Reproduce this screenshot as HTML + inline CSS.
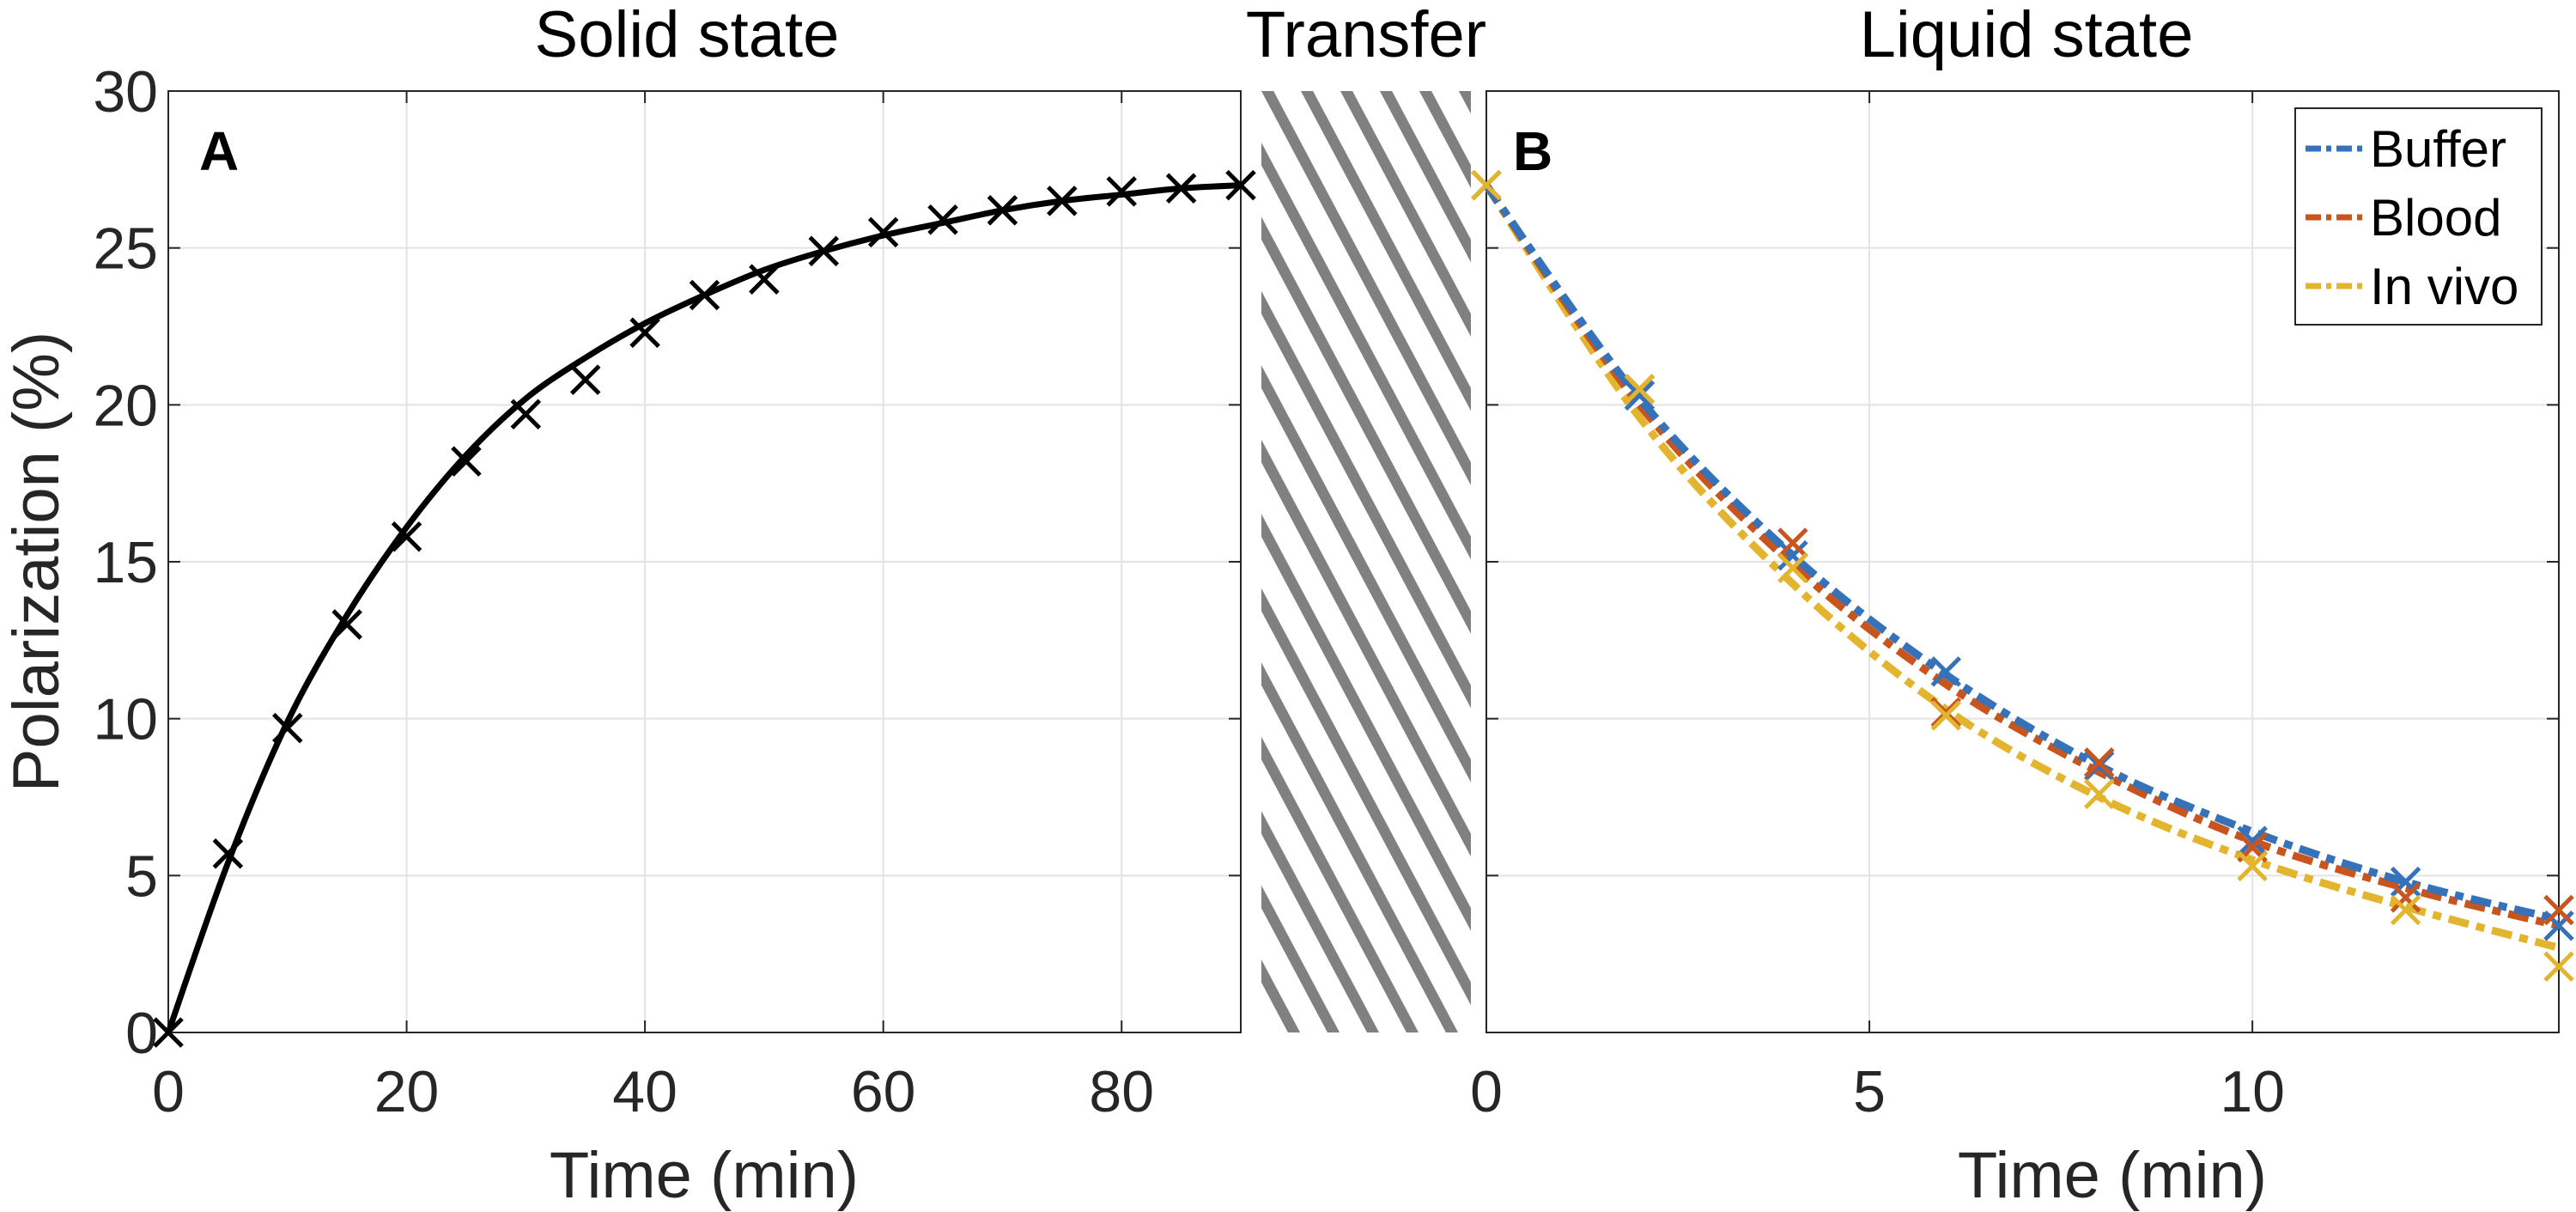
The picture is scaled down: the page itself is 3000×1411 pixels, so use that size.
<!DOCTYPE html>
<html><head><meta charset="utf-8"><style>
html,body{margin:0;padding:0;background:#fff;}
svg{display:block;font-family:"Liberation Sans",sans-serif;}
</style></head><body>
<svg id="chart" width="3000" height="1411" viewBox="0 0 3000 1411" xmlns="http://www.w3.org/2000/svg">
<defs>
<pattern id="hatch" patternUnits="userSpaceOnUse" width="40.6" height="40" patternTransform="translate(1469,106) rotate(-28)">
<rect x="0" y="0" width="12.5" height="40" fill="#808080"/>
</pattern>
</defs>
<g id="gA"></g>
<rect x="1469" y="106" width="244" height="1096" fill="url(#hatch)"/>
<g id="gB"></g>
<text x="800" y="66" font-size="76" text-anchor="middle" fill="#000">Solid state</text>
<text x="1591" y="66" font-size="76" text-anchor="middle" fill="#000">Transfer</text>
<text x="2360" y="66" font-size="76" text-anchor="middle" fill="#000">Liquid state</text>
<text transform="translate(68,654) rotate(-90)" font-size="76" text-anchor="middle" fill="#262626">Polarization (%)</text>
<text x="820" y="1394" font-size="76" text-anchor="middle" fill="#262626">Time (min)</text>
<text x="2460" y="1394" font-size="76" text-anchor="middle" fill="#262626">Time (min)</text>
<text x="232" y="198" font-size="64" font-weight="bold" fill="#000">A</text>
<text x="1762" y="198" font-size="64" font-weight="bold" fill="#000">B</text>
</svg>
<script>
// Panel A data
const aTimes = [0,5,10,15,20,25,30,35,40,45,50,55,60,65,70,75,80,85,90];
const aMeasured = [0,5.7,9.7,13.0,15.8,18.2,19.7,20.8,22.3,23.5,24.0,24.9,25.5,25.9,26.2,26.5,26.8,26.9,27.0];
const aFit = [0,5.4,9.9,13.3,16.1,18.4,20.2,21.5,22.6,23.5,24.3,24.9,25.4,25.8,26.2,26.5,26.7,26.9,27.0];
const aXTicks = [0,20,40,60,80];
const yTicks = [0,5,10,15,20,25,30];
// Panel B data
const bTimes = [0,2,4,6,8,10,12,14];
const bufferMeasured = [27,20.3,15.2,11.5,8.5,6.1,4.8,3.4];
const bloodMeasured = [27,20.5,15.6,10.2,8.6,5.9,4.3,3.9];
const vivoMeasured = [27,20.5,14.8,10.1,7.6,5.3,3.9,2.1];
const bufferFit = [27,20.2,15.2,11.4,8.5,6.4,4.8,3.6];
const bloodFit = [27,20.0,14.9,11.1,8.3,6.1,4.6,3.4];
const vivoFit = [27,19.6,14.3,10.3,7.5,5.5,4.0,2.7];
const bXTicks = [0,5,10];
const seriesNames = ["Buffer","Blood","In vivo"];

const NS="http://www.w3.org/2000/svg";
const top_=106, bot=1202;
const yS = v => bot - (v/30)*(bot-top_);
const xA = v => 196 + v/90*(1445-196);
const xB = v => 1731 + v/14*(2980-1731);
function mk(tag, attrs, parent){const e=document.createElementNS(NS,tag);for(const k in attrs)e.setAttribute(k,attrs[k]);parent.appendChild(e);return e;}
function smooth(xs,ys){let d=`M${xs[0]},${ys[0]}`;for(let i=0;i<xs.length-1;i++){const x0=xs[Math.max(0,i-1)],y0=ys[Math.max(0,i-1)],x1=xs[i],y1=ys[i],x2=xs[i+1],y2=ys[i+1],x3=xs[Math.min(xs.length-1,i+2)],y3=ys[Math.min(xs.length-1,i+2)];d+=` C${x1+(x2-x0)/6},${y1+(y2-y0)/6} ${x2-(x3-x1)/6},${y2-(y3-y1)/6} ${x2},${y2}`;}return d;}
function cross(g,cx,cy,col,name){const p=mk('path',{d:`M${cx-16},${cy-16}L${cx+16},${cy+16}M${cx-16},${cy+16}L${cx+16},${cy-16}`,stroke:col,'stroke-width':5,fill:'none'},g);

}
function axes(g,x0,x1,xfn,xt,showY,prefix){
  const bg=mk('rect',{x:x0,y:top_,width:x1-x0,height:bot-top_,fill:'#fff'},g);
  
  
  yTicks.forEach(v=>{const l=mk('line',{x1:x0,x2:x1,y1:yS(v),y2:yS(v),stroke:'#e3e3e3','stroke-width':2},g);
    
    
    mk('line',{x1:x0,x2:x0+14,y1:yS(v),y2:yS(v),stroke:'#262626','stroke-width':2},g);
    mk('line',{x1:x1-14,x2:x1,y1:yS(v),y2:yS(v),stroke:'#262626','stroke-width':2},g);
    if(showY){const t=mk('text',{x:x0-12,y:yS(v)+24,'font-size':68,'text-anchor':'end',fill:'#262626'},g);t.textContent=v;
      
      }});
  xt.forEach(v=>{const l=mk('line',{x1:xfn(v),x2:xfn(v),y1:top_,y2:bot,stroke:'#e3e3e3','stroke-width':2},g);
    
    
    mk('line',{x1:xfn(v),x2:xfn(v),y1:bot-14,y2:bot,stroke:'#262626','stroke-width':2},g);
    mk('line',{x1:xfn(v),x2:xfn(v),y1:top_,y2:top_+14,stroke:'#262626','stroke-width':2},g);
    const t=mk('text',{x:xfn(v),y:bot+92,'font-size':68,'text-anchor':'middle',fill:'#262626'},g);t.textContent=v;
    
    });
  const fr=mk('rect',{x:x0,y:top_,width:x1-x0,height:bot-top_,fill:'none',stroke:'#262626','stroke-width':2},g);
  
  
}
const gA=document.getElementById('gA'), gB=document.getElementById('gB');
axes(gA,196,1445,xA,aXTicks,true,'a');
axes(gB,1731,2980,xB,bXTicks,false,'b');
const fa=mk('path',{d:smooth(aTimes.map(xA),aFit.map(yS)),stroke:'#000','stroke-width':7,fill:'none'},gA);


aTimes.forEach((t,i)=>cross(gA,xA(t),yS(aMeasured[i]),'#000','solid-state-point'));
const cols=['#3572B9','#C8541E','#E3B52F'];
const fits=[bufferFit,bloodFit,vivoFit], meas=[bufferMeasured,bloodMeasured,vivoMeasured];
[2,1,0].forEach(k=>{const p=mk('path',{d:smooth(bTimes.map(xB),fits[k].map(yS)),stroke:cols[k],'stroke-width':9,fill:'none','stroke-dasharray':'24 9 10 9'},gB);
  
  });
[0,1,2].forEach(k=>bTimes.forEach((t,i)=>cross(gB,xB(t),yS(meas[k][i]),cols[k],seriesNames[k].toLowerCase().replace(' ','-')+'-point')));
// legend
const lg=mk('g',{},gB);


mk('rect',{x:2673,y:126,width:287,height:252,fill:'#fff',stroke:'#262626','stroke-width':2},lg);
seriesNames.forEach((n,k)=>{const y=173+k*80;
  const e=mk('g',{},lg);
  
  
  mk('line',{x1:2685,x2:2757,y1:y,y2:y,stroke:cols[k],'stroke-width':7,'stroke-dasharray':'18 6 6 6'},e);
  const t=mk('text',{x:2760,y:y+21,'font-size':60,fill:'#000'},e);t.textContent=n;});
</script>
</body></html>
